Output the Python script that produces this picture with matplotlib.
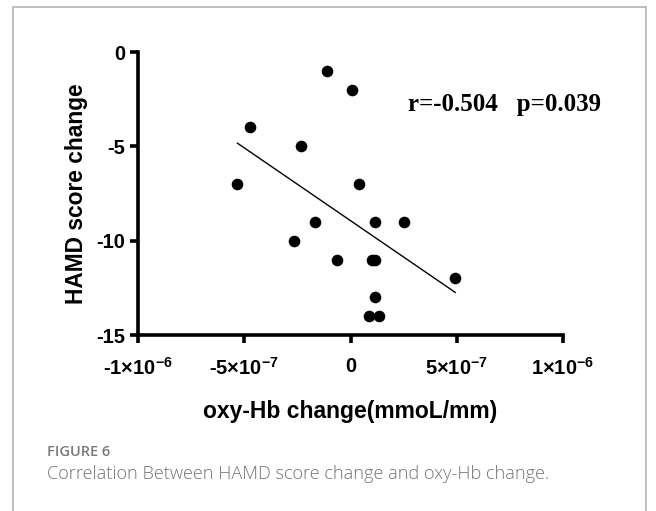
import numpy as np
import matplotlib
matplotlib.use("Agg")
import matplotlib.pyplot as plt
from matplotlib.patches import Rectangle

plt.rcParams['font.family'] = ['Liberation Sans', 'DejaVu Sans']
plt.rcParams['axes.unicode_minus'] = False
plt.rcParams['mathtext.fontset'] = 'custom'
plt.rcParams['mathtext.rm'] = 'Liberation Sans:bold'
plt.rcParams['mathtext.it'] = 'Liberation Sans:bold'
plt.rcParams['mathtext.bf'] = 'Liberation Sans:bold'
plt.rcParams['mathtext.sf'] = 'Liberation Sans:bold'

# data (x in mmoL/mm, y HAMD score change)
oxy_hb_change = np.array([-1.09, 0.06, -4.75, -2.32, -5.32, 0.40, -1.69, 1.14, 2.51,
                          -2.68, -0.64, 1.02, 1.17, 4.93, 1.17, 0.89, 1.36]) * 1e-7
hamd_change = np.array([-1, -2, -4, -5, -7, -7, -9, -9, -9,
                        -10, -11, -11, -11, -12, -13, -14, -14])
xticks = [-1e-6, -5e-7, 0, 5e-7, 1e-6]
xtick_labels = ['-1×10$^{-6}$', '-5×10$^{-7}$', '0', '5×10$^{-7}$', '1×10$^{-6}$']
yticks = [-15, -10, -5, 0]
ytick_labels = ['-15', '-10', '-5', '0']
stats_text = 'r=-0.504   p=0.039'

W, H = 656, 511
fig = plt.figure(figsize=(W / 100, H / 100), dpi=100)

# outer border
fig.patches.append(Rectangle((12.5 / W, -0.05), (646 - 12.5) / W, 1.05 - 7.5 / H,
                             transform=fig.transFigure, fill=False,
                             edgecolor='#b4b4b4', linewidth=1.2))

ax = fig.add_axes([138 / W, 1 - 335 / H, (563 - 138) / W, (335 - 52) / H])
ax.scatter(oxy_hb_change, hamd_change, s=70, color='black', zorder=3, linewidths=0)

# linear regression line across data range
slope, intercept = np.polyfit(oxy_hb_change, hamd_change, 1)
xs = np.array([oxy_hb_change.min(), oxy_hb_change.max()])
ax.plot(xs, slope * xs + intercept, color='black', linewidth=1.0)

ax.set_xlim(-1e-6, 1e-6)
ax.set_ylim(-15, 0)
for s in ['top', 'right']:
    ax.spines[s].set_visible(False)
for s in ['left', 'bottom']:
    ax.spines[s].set_linewidth(2.6)
ax.set_xticks(xticks)
ax.set_xticklabels(xtick_labels)
ax.set_yticks(yticks)
ax.set_yticklabels(ytick_labels)
ax.tick_params(axis='both', direction='out', length=6, width=2.6, labelsize=14.5)
ax.tick_params(axis='x', pad=10)
ax.tick_params(axis='y', pad=3)
for lab in ax.get_xticklabels() + ax.get_yticklabels():
    lab.set_fontweight('bold')

ax.set_xlabel('oxy-Hb change(mmoL/mm)', fontsize=16.5, fontweight='bold', labelpad=15)
ax.set_ylabel('HAMD score change', fontsize=16.4, fontweight='bold', labelpad=6)

ax.text(0.635, 0.815, stats_text, transform=ax.transAxes, fontsize=18,
        fontweight='bold', family='Liberation Serif', ha='left', va='center')

fig.text(47 / W, 1 - 452 / H, 'FIGURE 6', fontsize=10.5, color='#7a7a7a',
         family='Open Sans', fontweight='semibold', va='center', ha='left')
fig.text(47 / W, 1 - 474 / H, 'Correlation Between HAMD score change and oxy-Hb change.',
         fontsize=13.1, color='#747474', family='Open Sans', fontweight='light',
         va='center', ha='left')

fig.savefig('out.png', dpi=100)
